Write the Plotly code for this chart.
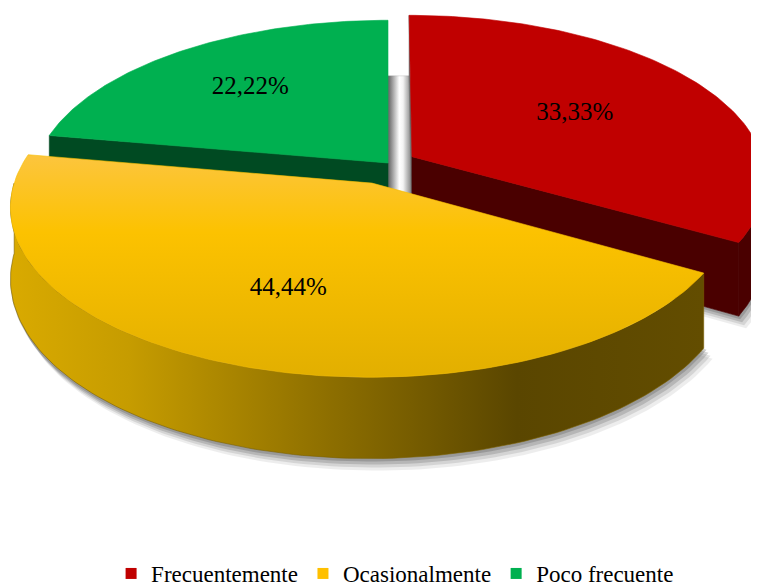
import numpy as np
import plotly.graph_objects as go

# ---------------- data ----------------
categories = ["Frecuentemente", "Ocasionalmente", "Poco frecuente"]
values = [33.33, 44.44, 22.22]

# ---------------- style ----------------
top_colors = ["#C00000", "#FCC200", "#00B050"]
wall_colors = ["#4A0000", "#6A5200", "#004A22"]
legend_colors = ["#C00000", "#FFC000", "#00B050"]
explode = [0.079, 0.13, 0.0]
label_r = [0.56, 0.62, 0.65]

# projection of the pie plane (pixel space)
CX, CY = 388.0, 163.0
RX, RY = 352.0, 162.0
K = 0.135
H = 69.0
CAMV = 1.0 / K
FONT = "'Liberation Serif', Tinos, 'Times New Roman', 'DejaVu Serif', serif"
PAGE_OFF = 8  # default body margin of the html page


def proj(u, v, z=0.0):
    u = np.asarray(u, dtype=float)
    v = np.asarray(v, dtype=float)
    den = 1.0 - K * v
    return CX + RX * u / den, CY + (RY * v + H * z) / den


def arc(a0, a1, n=120):
    t = np.radians(np.linspace(a0, a1, n))
    return np.sin(t), -np.cos(t)


total = float(sum(values))
slices = []
cum = 0.0
for i, val in enumerate(values):
    a0 = 360.0 * cum / total
    a1 = 360.0 * (cum + val) / total
    cum += val
    mid = np.radians((a0 + a1) / 2)
    ou, ov = explode[i] * np.sin(mid), -explode[i] * np.cos(mid)
    slices.append(dict(i=i, a0=a0, a1=a1, ou=ou, ov=ov, midv=-np.cos(mid)))

fig = go.Figure()


def poly(xs, ys, color, lw=0.6, opacity=1.0, gradient=None):
    xs = list(xs) + [xs[0]]
    ys = list(ys) + [ys[0]]
    kw = dict(fillcolor=color)
    if gradient is not None:
        kw = dict(fillgradient=gradient)
    fig.add_trace(go.Scatter(
        x=xs, y=ys, mode="lines", fill="toself",
        line=dict(color=color, width=lw), opacity=opacity,
        hoverinfo="skip", showlegend=False, **kw))


def top_face(s, z=0.0):
    au, av = arc(s["a0"], s["a1"])
    us = np.concatenate([[0.0], au]) + s["ou"]
    vs = np.concatenate([[0.0], av]) + s["ov"]
    return proj(us, vs, z)


# ---- shadows ----
for dx, dy, op in [(7, 11, 0.10), (5, 8, 0.16), (3, 5, 0.24), (1, 2, 0.3)]:
    for s in slices:
        x, y = top_face(s, 1.0)
        poly(x + dx, y + dy, "#5a5a5a", lw=2, opacity=op)

# shaded floor strip visible in the gap between the first and last slice
s_first = slices[0]
gu = np.array([0.0, s_first["ou"], s_first["ou"], 0.0])
gv = np.array([s_first["ov"] - 1.0, s_first["ov"] - 1.0, 0.3, 0.3])
gx, gy = proj(gu, gv, 1.0)
poly(gx, gy, "#9a9a9a", lw=0.3, gradient=dict(type="horizontal", colorscale=[
    [0.0, "#5f5f5f"], [0.45, "#ffffff"], [0.6, "#f4f4f4"], [1.0, "#6a6a6a"]]))

yellow_wall_grad = dict(type="horizontal", colorscale=[
    [0.0, "#D9AA00"], [0.17, "#C69C00"], [0.45, "#8F7000"],
    [0.73, "#5A4600"], [1.0, "#634D00"]])
yellow_top_grad = dict(type="vertical", colorscale=[
    [0.0, "#E2AF00"], [0.65, "#FCC200"], [1.0, "#FCC53E"]])

# ---- slices back to front ----
for s in sorted(slices, key=lambda d: d["midv"]):
    i = s["i"]
    ou, ov = s["ou"], s["ov"]
    # radial walls
    for a, sign in ((s["a0"], -1.0), (s["a1"], 1.0)):
        t = np.radians(a)
        nu, nv = sign * np.cos(t), sign * np.sin(t)
        pu, pv = ou + 0.5 * np.sin(t), ov - 0.5 * np.cos(t)
        if nu * (0 - pu) + nv * (CAMV - pv) > 1e-6:
            us = np.array([0.0, np.sin(t), np.sin(t), 0.0]) + ou
            vs = np.array([0.0, -np.cos(t), -np.cos(t), 0.0]) + ov
            zs = np.array([0.0, 0.0, 1.0, 1.0])
            x, y = proj(us, vs, zs)
            if i == 0 and a == s["a0"]:
                poly(x, y, "#6a6a6a", lw=0.6)
            else:
                poly(x, y, wall_colors[i])
    # outer wall (front part)
    b0, b1 = max(s["a0"], 90.0), min(s["a1"], 270.0)
    if b1 > b0:
        au, av = arc(b0, b1)
        xt, yt = proj(au + ou, av + ov, 0.0)
        xb, yb = proj(au + ou, av + ov, 1.0)
        xs = np.concatenate([xt, xb[::-1]])
        ys = np.concatenate([yt, yb[::-1]])
        if i == 1:
            poly(xs, ys, "#7A6000", gradient=yellow_wall_grad)
        else:
            poly(xs, ys, wall_colors[i])
    # top face
    x, y = top_face(s)
    if i == 1:
        poly(x, y, "#F6BE00", gradient=yellow_top_grad)
    else:
        poly(x, y, top_colors[i])

# ---- labels ----
for s in slices:
    i = s["i"]
    mid = np.radians((s["a0"] + s["a1"]) / 2)
    r = label_r[i]
    x, y = proj(r * np.sin(mid) + s["ou"], -r * np.cos(mid) + s["ov"])
    txt = f"{values[i]:.2f}".replace(".", ",") + "%"
    fig.add_trace(go.Scatter(
        x=[float(x)], y=[float(y)], mode="text", text=[txt],
        textposition="middle center",
        textfont=dict(family=FONT, size=25, color="#000000"),
        hoverinfo="skip", showlegend=False))

# ---- legend ----
for i, cat in enumerate(categories):
    fig.add_trace(go.Scatter(
        x=[None], y=[None], mode="markers", name=cat,
        marker=dict(symbol="square", size=11, color=legend_colors[i]),
        showlegend=True))

fig.update_layout(
    width=759, height=587,
    margin=dict(l=0, r=0, t=0, b=0, autoexpand=False),
    paper_bgcolor="white", plot_bgcolor="white",
    font=dict(family=FONT, color="#000000"),
    xaxis=dict(range=[PAGE_OFF, 759 + PAGE_OFF], visible=False, fixedrange=True),
    yaxis=dict(range=[587 + PAGE_OFF, PAGE_OFF], visible=False, fixedrange=True),
    hovermode=False,
    legend=dict(orientation="h", x=0.51, xanchor="center",
                y=0.0, yanchor="bottom",
                font=dict(family=FONT, size=23, color="#000000"),
                bgcolor="rgba(0,0,0,0)", itemwidth=30, tracegroupgap=0),
)

fig.write_html("out.html")
